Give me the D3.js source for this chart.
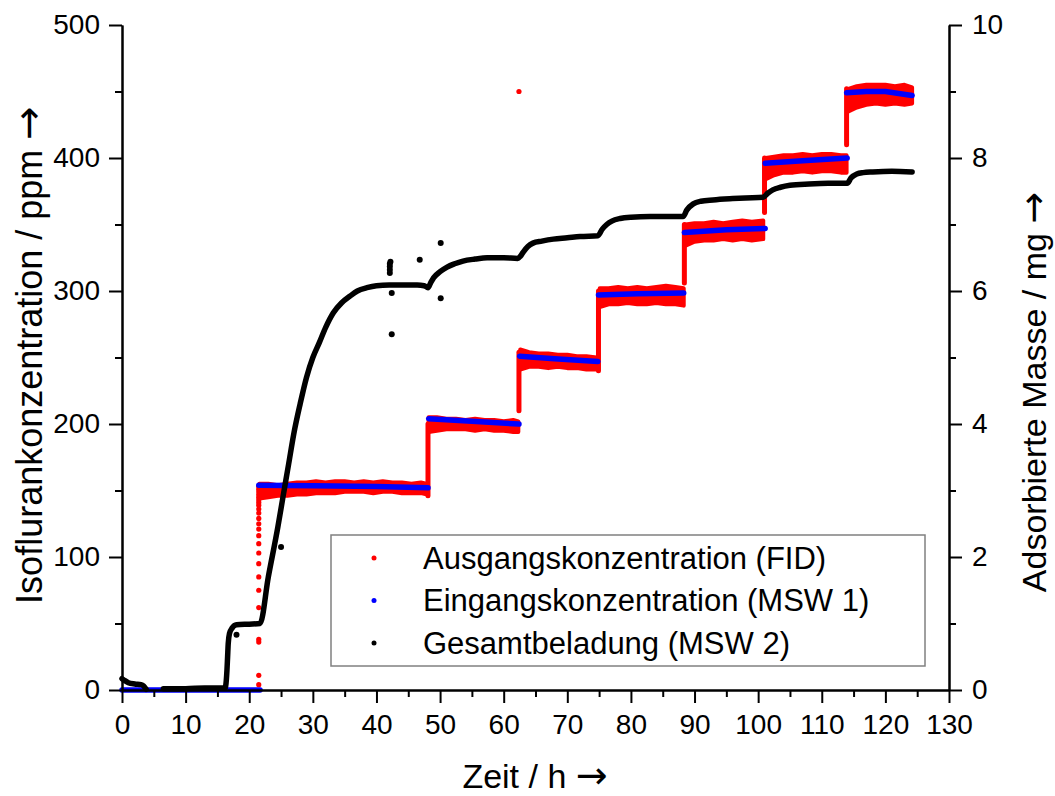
<!DOCTYPE html>
<html><head><meta charset="utf-8">
<script src="https://cdn.jsdelivr.net/npm/d3@7"></script>
<style>
html,body{margin:0;padding:0;background:#fff;}
svg text{font-family:"Liberation Sans",Arial,sans-serif;fill:#000;}
</style></head>
<body><svg id="chart" width="1055" height="796"></svg>
<script>
// ---------- data ----------
const xTicks = [0,10,20,30,40,50,60,70,80,90,100,110,120,130];
const yLeftTicks = [0,100,200,300,400,500];
const yRightTicks = [0,2,4,6,8,10];

// Ausgangskonzentration (FID): noisy band, low/high edges per step (null = break)
const ausgangT    = [21.6,23,24.5,26,27.5,29,30.5,32,33.5,35,36.5,38,39.5,41,42.5,44,45.5,47,48.0,null,
                     48.2,49.5,51,52.5,54,55.5,57,58.5,60,61.5,62.3,null,
                     62.6,64,65.5,67,68.5,70,71.5,73,74.6,null,
                     75.1,76.5,78,79.5,81,82.5,84,85.5,87,88.3,null,
                     88.6,90,91.5,93,94.5,96,97.5,99,100.8,null,
                     101.2,102.5,104,105.5,107,108.5,110,111.5,113,113.9,null,
                     114.2,115.5,117,118.5,120,121.5,123,124.2];
const ausgangHigh = [155,155,154,155,156,156,157,156,157,157,156,157,156,157,156,156,155,156,155,null,
                     205,205,204,204,203,204,203,203,202,203,202,null,
                     256,254,253,253,252,252,251,251,250,null,
                     302,302,303,302,303,302,303,304,303,302,null,
                     350,351,351,352,351,352,353,352,353,null,
                     400,401,402,402,403,402,403,403,402,402,null,
                     452,454,455,455,455,454,455,453];
const ausgangLow  = [144,145,146,146,147,147,148,148,148,149,149,149,148,149,149,148,148,148,147,null,
                     194,195,196,196,196,195,196,195,195,194,194,null,
                     241,243,243,242,243,242,242,241,241,null,
                     288,290,290,291,290,290,291,290,290,289,null,
                     334,337,338,338,339,338,339,338,339,null,
                     384,387,389,389,390,389,390,390,389,389,null,
                     435,438,440,441,440,441,440,441];
// transient jumps of the FID signal at each step change
const jumpT    = [48.1,62.4,74.9,88.4,101.0,113.9];
const jumpLow  = [146,210,240,306,359,410];
const jumpHigh = [200,254,300,350,400,452];
// first rise at 21.5 h (single readings)
const riseT   = 21.5;
const risePPM = [4,11,36,38,62,75,85,95,103,110,116,121,125,129,133,136,139,141,143,145,147,149,151,153];
const ausgangOutlierT = [62.4];
const ausgangOutlierPPM = [450];

// Eingangskonzentration (MSW 1)
const eingangT   = [0,21.7,null,21.5,30,40,48.1,null,48.2,55,62.4,null,62.5,68,74.8,null,74.9,81,88.3,null,
                    88.4,95,101.1,null,101.1,107,114.0,null,113.9,117,120,124.2];
const eingangPPM = [0,0,null,154,153.5,153,152,null,204,202,200,null,251,249,247,null,297,298,298.5,null,
                    344,346,347,null,396,398,400,null,449,450,450,447];

// Gesamtbeladung (MSW 2), mg
const gesamtT  = [0,0.3,1,2,3,3.4,3.8,null,6.5,10,13,16.2,16.4,16.5,16.6,16.7,16.9,17.3,18,20,21.7,23,24.5,25.3,26.2,27,28,29,30,31,32,33.2,34.5,35.8,37,38.5,40,42,44,46.4,47.5,48.1,48.5,49,50,51.1,52.3,53.6,55.5,57.4,60,62.2,62.6,63.1,63.8,64.6,66,67.8,70,72,74.8,75.5,76.2,77,78.3,80,83,86,88.2,88.8,89.8,91,92.9,96,98,100.8,101.5,102.3,103.5,105,108,111,114,114.6,115.5,116.5,118,121,124.2];
const gesamtMg = [0.17,0.15,0.11,0.09,0.08,0.06,0.01,null,0.02,0.02,0.03,0.03,0.15,0.3,0.5,0.7,0.85,0.93,0.98,0.99,1.0,1.7,2.45,2.9,3.4,3.85,4.3,4.7,5.0,5.22,5.45,5.67,5.82,5.92,6.0,6.05,6.08,6.09,6.09,6.09,6.08,6.05,6.12,6.2,6.29,6.36,6.41,6.45,6.48,6.5,6.5,6.49,6.52,6.59,6.67,6.72,6.75,6.78,6.8,6.82,6.83,6.93,7.0,7.05,7.09,7.11,7.12,7.12,7.12,7.22,7.31,7.35,7.37,7.39,7.4,7.41,7.47,7.52,7.56,7.59,7.61,7.62,7.62,7.7,7.76,7.78,7.79,7.8,7.79];
const gesamtOutlierT  = [18,25,42.1,42.1,42.1,42.1,42.2,42.4,42.4,46.8,50.1,50.1];
const gesamtOutlierMg = [0.83,2.15,6.27,6.32,6.37,6.41,6.44,5.97,5.35,6.47,6.72,5.89];

const legendLabels = ["Ausgangskonzentration (FID)","Eingangskonzentration (MSW 1)","Gesamtbeladung (MSW 2)"];
const legendColors = ["#ff0000","#0000ff","#000000"];

// ---------- chart ----------
const svg = d3.select("#chart");
const x = d3.scaleLinear().domain([0,130]).range([122,949]);
const yL = d3.scaleLinear().domain([0,500]).range([690,25]);
const yR = d3.scaleLinear().domain([0,10]).range([690,25]);

const plot = svg.append("g");

// red band
const band = ausgangT.map((t,i)=>({t, lo:ausgangLow[i], hi:ausgangHigh[i]}));
plot.append("path")
  .datum(band)
  .attr("d", d3.area().defined(d=>d.t!=null).x(d=>x(d.t)).y0(d=>yL(d.lo)).y1(d=>yL(d.hi)))
  .attr("fill","#ff0000").attr("stroke","#ff0000").attr("stroke-width",4).attr("stroke-linejoin","round");
// jumps
plot.selectAll("line.jump").data(jumpT).join("line")
  .attr("x1",d=>x(d)).attr("x2",d=>x(d))
  .attr("y1",(d,i)=>yL(jumpLow[i])).attr("y2",(d,i)=>yL(jumpHigh[i]))
  .attr("stroke","#ff0000").attr("stroke-width",5).attr("stroke-linecap","round");
plot.selectAll("circle.rise").data(risePPM).join("circle")
  .attr("cx",x(riseT)).attr("cy",d=>yL(d)).attr("r",2.6).attr("fill","#ff0000");
plot.selectAll("circle.rout").data(ausgangOutlierT).join("circle")
  .attr("cx",d=>x(d)).attr("cy",(d,i)=>yL(ausgangOutlierPPM[i])).attr("r",2.6).attr("fill","#ff0000");

// blue
const blue = eingangT.map((t,i)=>({t, v:eingangPPM[i]}));
plot.append("path").datum(blue)
  .attr("d", d3.line().defined(d=>d.t!=null).x(d=>x(d.t)).y(d=>yL(d.v)))
  .attr("fill","none").attr("stroke","#0000ff").attr("stroke-width",5.5).attr("stroke-linecap","round").attr("stroke-linejoin","round");

// black
const black = gesamtT.map((t,i)=>({t, v:gesamtMg[i]}));
plot.append("path").datum(black)
  .attr("d", d3.line().defined(d=>d.t!=null).x(d=>x(d.t)).y(d=>yR(d.v)).curve(d3.curveMonotoneX))
  .attr("fill","none").attr("stroke","#000").attr("stroke-width",5.5).attr("stroke-linecap","round").attr("stroke-linejoin","round");
plot.selectAll("circle.bout").data(gesamtOutlierT).join("circle")
  .attr("cx",d=>x(d)).attr("cy",(d,i)=>yR(gesamtOutlierMg[i])).attr("r",3).attr("fill","#000");

// axes
function styleAxis(g){
  g.selectAll("path.domain").attr("stroke","#000").attr("stroke-width",2);
  g.selectAll(".tick line").attr("stroke","#000").attr("stroke-width",2);
  g.selectAll("text").style("font-size","28px").attr("fill","#000");
}
const minorX = d3.range(5,130,10);
const minorY = d3.range(50,500,100);
const minorYR = d3.range(1,10,2);

svg.append("g").attr("transform","translate(0,690)")
  .call(d3.axisBottom(x).tickValues(minorX).tickSize(7).tickSizeOuter(0).tickFormat(""))
  .call(styleAxis);
svg.append("g").attr("transform","translate(0,690)")
  .call(d3.axisBottom(x).tickValues(xTicks).tickSize(13).tickSizeOuter(0).tickPadding(11).tickFormat(d3.format("d")))
  .call(styleAxis);

svg.append("g").attr("transform","translate(122,0)")
  .call(d3.axisLeft(yL).tickValues(minorY).tickSize(7).tickSizeOuter(0).tickFormat(""))
  .call(styleAxis);
svg.append("g").attr("transform","translate(122,0)")
  .call(d3.axisLeft(yL).tickValues(yLeftTicks).tickSize(13).tickSizeOuter(0).tickPadding(9).tickFormat(d3.format("d")))
  .call(styleAxis);

svg.append("g").attr("transform","translate(949,0)")
  .call(d3.axisRight(yR).tickValues(minorYR).tickSize(7).tickSizeOuter(0).tickFormat(""))
  .call(styleAxis);
svg.append("g").attr("transform","translate(949,0)")
  .call(d3.axisRight(yR).tickValues(yRightTicks).tickSize(13).tickSizeOuter(0).tickPadding(10).tickFormat(d3.format("d")))
  .call(styleAxis);

// axis titles
function title(sel, label, arrowSize){
  sel.append("tspan").text(label + " ");
  sel.append("tspan").style("font-family","'DejaVu Sans'").style("font-size",arrowSize).text("\u2192");
}
svg.append("text").attr("x",535).attr("y",788).attr("text-anchor","middle")
  .style("font-size","34px").call(title,"Zeit / h","38px");
svg.append("text").attr("transform","translate(42,355) rotate(-90)").attr("text-anchor","middle")
  .style("font-size","36px").call(title,"Isoflurankonzentration / ppm","40px");
svg.append("text").attr("transform","translate(1046,392) rotate(-90)").attr("text-anchor","middle")
  .style("font-size","34px").call(title,"Adsorbierte Masse / mg","38px");

// legend
const lg = svg.append("g");
lg.append("rect").attr("x",331).attr("y",535).attr("width",594).attr("height",131)
  .attr("fill","#fff").attr("stroke","#808080").attr("stroke-width",1.5);
legendLabels.forEach((lab,i)=>{
  const cy = 558 + i*42.5;
  lg.append("circle").attr("cx",374).attr("cy",cy).attr("r",2.5).attr("fill",legendColors[i]);
  lg.append("text").attr("x",423).attr("y",cy).attr("dy","0.35em").style("font-size","31px").text(lab);
});
</script></body></html>
